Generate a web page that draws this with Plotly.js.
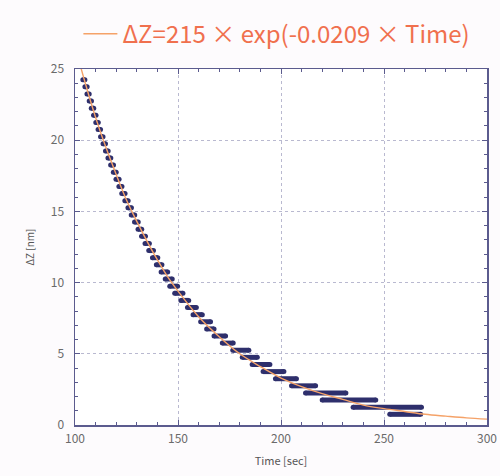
<!DOCTYPE html>
<html>
<head>
<meta charset="utf-8">
<script src="https://cdn.plot.ly/plotly-3.0.1.min.js"></script>
<style>html,body{margin:0;padding:0;background:#fdfbfd;}#chart{width:500px;height:476px;}</style>
</head>
<body>
<div id="chart"></div>
<script>
// Quantized ΔZ levels [nm] and the time span [sec] each level was observed over
const levelDZ = [24.25,23.75,23.25,22.75,22.25,21.75,21.25,20.75,20.25,19.75,19.25,18.75,18.25,17.75,17.25,16.75,16.25,15.75,15.25,14.75,14.25,13.75,13.25,12.75,12.25,11.75,11.25,10.75,10.25,9.75,9.25,8.75,8.25,7.75,7.25,6.75,6.25,5.75,5.25,4.75,4.25,3.75,3.25,2.75,2.25,1.75,1.25,0.75];
const levelStart = [103.8,104.8,105.8,106.9,107.9,109.0,110.1,111.2,112.4,113.6,114.8,116.0,117.3,118.6,119.9,121.3,122.7,124.2,125.7,127.3,128.9,130.6,132.3,134.0,135.8,137.6,139.5,141.8,143.8,146.0,148.4,151.4,154.6,157.3,161.0,163.9,167.5,171.5,176.6,181.2,186.0,191.3,197.3,205.1,211.9,220.0,235.0,252.8];
const levelEnd   = [104.8,105.9,106.9,108.0,109.1,110.2,111.3,112.4,113.6,114.8,116.1,117.4,118.7,120.0,121.4,122.8,124.3,125.8,127.4,129.0,130.7,132.4,134.2,136.1,138.1,140.2,142.2,145.0,147.2,149.8,152.4,155.2,158.9,161.8,165.8,167.5,173.1,176.8,184.4,188.5,194.6,201.4,207.5,216.8,231.5,246.0,268.2,267.8];

// Fitted curve: ΔZ = 215 × exp(-0.0209 × Time)
const fitTime = [100,105,110,115,120,125,130,135,140,145,150,160,170,180,190,200,210,220,230,240,250,260,270,280,290,300];
const fitDZ   = [26.6,24.0,21.6,19.5,17.6,15.8,14.3,12.9,11.6,10.4,9.4,7.6,6.2,5.0,4.1,3.3,2.7,2.2,1.8,1.4,1.15,0.95,0.75,0.62,0.5,0.41];

const segX = [], segY = [];
for (let i = 0; i < levelDZ.length; i++) {
  segX.push(levelStart[i], levelEnd[i], null);
  segY.push(levelDZ[i], levelDZ[i], null);
}

const axisColor = '#5b5b8e';
const tickFont = {family: '"Noto Sans CJK JP", "DejaVu Sans", sans-serif', size: 12, color: '#6a6a6a'};

const traces = [
  {
    x: segX, y: segY, type: 'scatter', mode: 'lines+markers',
    line: {color: '#2e2f6c', width: 5},
    marker: {color: '#2e2f6c', size: 5},
    connectgaps: false, showlegend: false, hoverinfo: 'skip'
  },
  {
    x: fitTime, y: fitDZ, type: 'scatter', mode: 'lines',
    line: {color: '#f5a268', width: 1.4, shape: 'spline'},
    name: 'ΔZ=215 × exp(-0.0209 × Time)', showlegend: true
  }
];

const layout = {
  width: 500, height: 476,
  margin: {l: 75, r: 13, t: 58, b: 51},
  paper_bgcolor: '#fdfbfd', plot_bgcolor: '#ffffff',
  showlegend: true,
  legend: {
    x: 0.49, xanchor: 'center', y: 1.098, yanchor: 'middle',
    orientation: 'h', bgcolor: 'rgba(0,0,0,0)',
    font: {family: '"Noto Sans CJK JP", "DejaVu Sans", sans-serif', size: 24, color: '#f0704e'},
    itemwidth: 34
  },
  xaxis: {
    range: [100, 300], dtick: 50, tick0: 100,
    showline: true, linecolor: axisColor, linewidth: 1.5, mirror: 'allticks',
    ticks: 'inside', ticklen: 5, tickcolor: axisColor, tickwidth: 1,
    minor: {dtick: 10, ticks: 'inside', ticklen: 3, tickcolor: axisColor, showgrid: false},
    showgrid: true, gridcolor: '#b9b9d0', griddash: 'dot', gridwidth: 1,
    zeroline: false, tickfont: tickFont, ticklabelstandoff: 2,
    title: {text: 'Time [sec]', font: {family: '"Noto Sans CJK JP", "DejaVu Sans Mono", monospace', size: 11, color: '#555555'}, standoff: 12}
  },
  yaxis: {
    range: [0, 25], dtick: 5, tick0: 0,
    showline: true, linecolor: axisColor, linewidth: 1.5, mirror: 'allticks',
    ticks: 'inside', ticklen: 5, tickcolor: axisColor, tickwidth: 1,
    minor: {dtick: 1, ticks: 'inside', ticklen: 3, tickcolor: axisColor, showgrid: false},
    showgrid: true, gridcolor: '#b9b9d0', griddash: 'dot', gridwidth: 1,
    zeroline: false, tickfont: tickFont, ticklabelstandoff: 7,
    title: {text: 'ΔZ [nm]', font: {family: '"Noto Sans CJK JP", "DejaVu Sans Mono", monospace', size: 10, color: '#555555'}, standoff: 14}
  }
};

Plotly.newPlot('chart', traces, layout, {displayModeBar: false, staticPlot: true});
</script>
</body>
</html>
